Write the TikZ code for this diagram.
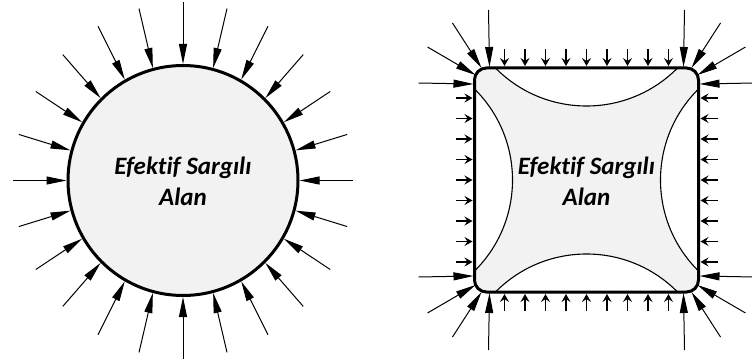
\documentclass[tikz,border=0pt]{standalone}
\usepackage{fontspec}
\setmainfont{Carlito}[Ligatures=NoCommon]
\usepackage{tikz}
\usetikzlibrary{arrows.meta, positioning}
\definecolor{corefill}{gray}{0.95}

\begin{document}
\begin{tikzpicture}[x=1pt, y=1pt, > = {Triangle[length=20pt, width=8pt]},
    areatext/.style = {align=center, font=\bfseries\itshape\fontsize{25}{31}\selectfont},
    coil/.style = {circle, draw, line width=3pt, fill=corefill, minimum size=230pt, inner sep=0pt},
    core/.style = {rectangle, draw, line width=3pt, rounded corners=12pt, minimum size=224pt, inner sep=0pt},
    force/.style = {->, line width=1pt},
    small/.style = {-{Stealth[length=8pt, width=9pt, inset=3pt]}, line width=1.1pt},
    arcline/.style = {line width=1.1pt}]
    \useasboundingbox (0,0) rectangle (752,362);

    % round winding
    \node[coil] (c) at (183,181.5) {};
    \node[areatext] (ct) at (183,181) {Efektif Sargılı\\Alan};
    \foreach \a in {0,15,...,345}
        \draw[force] ([shift={(\a:170 and 178)}]c.center) -- (c.\a);

    % square winding
    \coordinate (m) at (586.5,182);
    \fill[corefill, rounded corners=12pt] (474.5,70) rectangle (698.5,294);
    \foreach \ang/\cx/\cy in {270/0/202, 180/202/0, 90/0/-202, 0/-202/0} {
        \path[fill=white] ([shift={(\cx,\cy)}]m) ++(\ang-45:128)
            arc[start angle=\ang-45, end angle=\ang+45, radius=128] -- cycle;
        \draw[arcline] ([shift={(\cx,\cy)}]m) ++(\ang-45:128)
            arc[start angle=\ang-45, end angle=\ang+45, radius=128];
    }
    \node[core] (sq) at (m) {};
    \node[areatext] (t) at (586.5,181) {Efektif Sargılı\\Alan};

    \foreach \s in {-82,-61.5,...,82} {
        \draw[small] ([shift={(\s,131)}]sq.center) -- ([shift={(\s,114)}]sq.center);
        \draw[small] ([shift={(\s,-131)}]sq.center) -- ([shift={(\s,-114)}]sq.center);
        \draw[small] ([shift={(-131,\s)}]sq.center) -- ([shift={(-114,\s)}]sq.center);
        \draw[small] ([shift={(131,\s)}]sq.center) -- ([shift={(114,\s)}]sq.center);
    }
    \foreach \sx/\sy in {1/1, -1/1, -1/-1, 1/-1}
        \foreach \ax/\ay/\bx/\by in {98/170/97/113, 134/157/105/112, 159/133/111/105, 168/97/113/96}
            \draw[force] ([shift={({\sx*\ax},{\sy*\ay})}]sq.center) -- ([shift={({\sx*\bx},{\sy*\by})}]sq.center);
\end{tikzpicture}
\end{document}
